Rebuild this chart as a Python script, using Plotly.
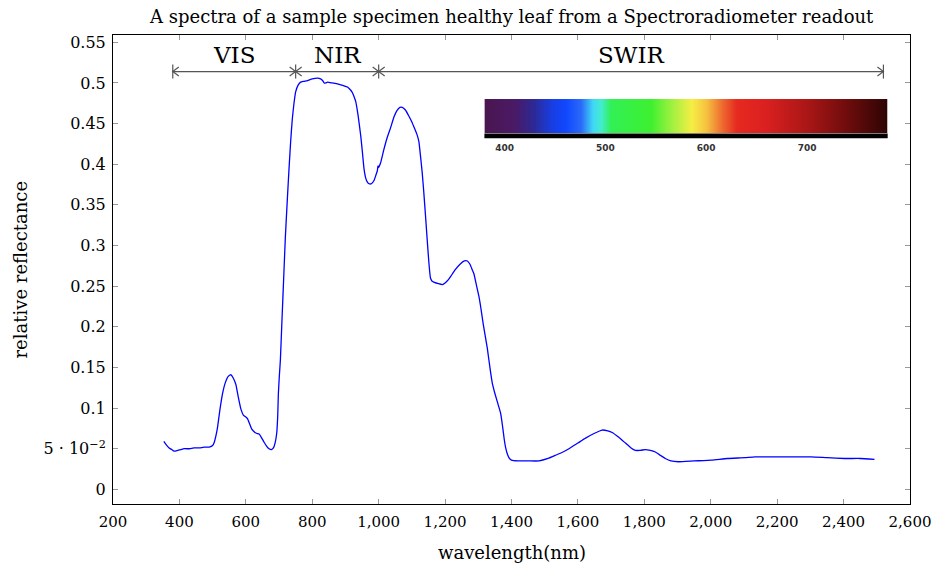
import plotly.graph_objects as go

# ---- data ----
wavelength = [353, 360, 369, 377, 384, 395, 405, 414, 430, 444, 460, 475, 490, 500, 505, 510, 515, 522,
              530, 538, 547, 555, 562, 570, 577, 585, 593, 600, 605, 612, 618, 625, 632, 640, 648, 655,
              663, 670, 677, 683, 688, 693, 696, 698, 701, 704, 709, 714, 719, 725, 730, 735, 740, 745,
              750, 757, 765, 775, 786, 800, 816, 825, 831, 836, 841, 846, 860, 876, 892, 906, 916, 921,
              926, 931, 938, 946, 951, 956, 961, 966, 971, 978, 986, 992, 996, 998, 1000, 1006, 1015,
              1025, 1036, 1046, 1055, 1064, 1071, 1080, 1090, 1100, 1106, 1115, 1121, 1126, 1131, 1136,
              1141, 1146, 1151, 1156, 1161, 1166, 1180, 1192, 1200, 1210, 1217, 1230, 1245, 1258, 1267,
              1275, 1282, 1287, 1295, 1302, 1307, 1315, 1322, 1327, 1335, 1342, 1350, 1360, 1367, 1373,
              1378, 1382, 1388, 1394, 1400, 1420, 1450, 1483, 1510, 1533, 1555, 1573, 1600, 1623, 1650,
              1673, 1690, 1703, 1723, 1743, 1760, 1773, 1788, 1803, 1818, 1833, 1848, 1863, 1880, 1903,
              1950, 2003, 2050, 2103, 2133, 2200, 2303, 2350, 2403, 2450, 2493]
reflectance = [0.059, 0.055, 0.051, 0.049, 0.047, 0.048, 0.049, 0.050, 0.050, 0.051, 0.051, 0.052, 0.052,
               0.054, 0.058, 0.066, 0.077, 0.098, 0.118, 0.131, 0.139, 0.141, 0.137, 0.129, 0.114, 0.099,
               0.091, 0.089, 0.087, 0.080, 0.074, 0.071, 0.069, 0.068, 0.063, 0.058, 0.053, 0.050, 0.049,
               0.051, 0.057, 0.069, 0.090, 0.118, 0.140, 0.159, 0.210, 0.260, 0.310, 0.357, 0.394, 0.428,
               0.456, 0.475, 0.489, 0.497, 0.501, 0.502, 0.503, 0.505, 0.506, 0.505, 0.503, 0.500, 0.500,
               0.501, 0.500, 0.499, 0.497, 0.495, 0.491, 0.488, 0.483, 0.477, 0.460, 0.435, 0.415, 0.394,
               0.383, 0.378, 0.376, 0.376, 0.380, 0.387, 0.392, 0.398, 0.396, 0.402, 0.417, 0.432, 0.445,
               0.458, 0.466, 0.470, 0.470, 0.467, 0.460, 0.452, 0.446, 0.437, 0.428, 0.410, 0.390, 0.365,
               0.337, 0.308, 0.280, 0.260, 0.256, 0.255, 0.253, 0.252, 0.254, 0.258, 0.262, 0.270, 0.277,
               0.281, 0.281, 0.277, 0.270, 0.265, 0.250, 0.237, 0.225, 0.203, 0.186, 0.174, 0.150, 0.131,
               0.118, 0.104, 0.094, 0.078, 0.062, 0.052, 0.043, 0.038, 0.036, 0.035, 0.035, 0.035, 0.038,
               0.042, 0.046, 0.050, 0.057, 0.063, 0.069, 0.073, 0.072, 0.070, 0.064, 0.057, 0.051, 0.048,
               0.048, 0.049, 0.048, 0.046, 0.042, 0.038, 0.035, 0.034, 0.035, 0.036, 0.038, 0.039, 0.040,
               0.040, 0.040, 0.039, 0.038, 0.038, 0.037]

region_names = ["VIS", "NIR", "SWIR"]
region_bounds = [380, 750, 1000, 2520]
region_level = 0.514

x_ticks = [200, 400, 600, 800, 1000, 1200, 1400, 1600, 1800, 2000, 2200, 2400, 2600]
x_ticktext = ["200", "400", "600", "800", "1,000", "1,200", "1,400", "1,600", "1,800", "2,000",
              "2,200", "2,400", "2,600"]
y_ticks = [0, 0.05, 0.1, 0.15, 0.2, 0.25, 0.3, 0.35, 0.4, 0.45, 0.5, 0.55]
y_ticktext = ["0", "5 · 10<sup>−2</sup>", "0.1", "0.15", "0.2", "0.25", "0.3", "0.35", "0.4",
              "0.45", "0.5", "0.55"]

spectrum_nm = list(range(380, 781, 2))
spectrum_ticks = [400, 500, 600, 700]
spectrum_colors = [
    [0.000, "#4a1650"], [0.075, "#4a1a66"], [0.125, "#2c2a98"], [0.163, "#1a3de0"],
    [0.200, "#1048ff"], [0.238, "#2a6af8"], [0.268, "#40d8f6"], [0.288, "#44ecd0"],
    [0.313, "#32f056"], [0.413, "#3ef030"], [0.463, "#a0f040"], [0.513, "#f6ee44"],
    [0.550, "#f6c040"], [0.588, "#ee6c30"], [0.625, "#e62a20"], [0.700, "#da2020"],
    [0.800, "#aa1616"], [0.900, "#6e0c0c"], [1.000, "#2e0404"]]

X_RANGE = [200, 2600]
Y_RANGE = [-0.018, 0.559]

SERIF = "DejaVu Serif"
fig = go.Figure()

fig.add_trace(go.Scatter(x=wavelength, y=reflectance, mode="lines",
                         line=dict(color="#0000ff", width=1.3, shape="spline", smoothing=0.4),
                         showlegend=False, hoverinfo="skip"))

# region arrows |<--->|
plot_w, plot_h = 797, 469
ux = (X_RANGE[1] - X_RANGE[0]) / plot_w
uy = (Y_RANGE[1] - Y_RANGE[0]) / plot_h
ax, ay = [], []
for i in range(len(region_names)):
    a, b = region_bounds[i], region_bounds[i + 1]
    ax += [a, b, None]
    ay += [region_level, region_level, None]
    ax += [a + 6 * ux, a, a + 6 * ux, None]
    ay += [region_level + 4.5 * uy, region_level, region_level - 4.5 * uy, None]
    ax += [b - 6 * ux, b, b - 6 * ux, None]
    ay += [region_level + 4.5 * uy, region_level, region_level - 4.5 * uy, None]
for v in region_bounds:
    ax += [v, v, None]
    ay += [region_level + 7 * uy, region_level - 7 * uy, None]
fig.add_trace(go.Scatter(x=ax, y=ay, mode="lines", line=dict(color="#555555", width=1.2),
                         showlegend=False, hoverinfo="skip"))
for i, name in enumerate(region_names):
    fig.add_annotation(x=(region_bounds[i] + region_bounds[i + 1]) / 2, y=region_level + 17 * uy,
                       text=name, showarrow=False, font=dict(family=SERIF, size=23, color="black"),
                       xref="x", yref="y", yanchor="middle", xanchor="center")

# spectrum strip
fig.add_trace(go.Heatmap(x=spectrum_nm, y=[0], z=[spectrum_nm], colorscale=spectrum_colors,
                         showscale=False, xaxis="x2", yaxis="y2", hoverinfo="skip", zsmooth="best"))
fig.add_shape(type="rect", xref="x2 domain", yref="paper", x0=0, x1=1, y0=0.780, y1=0.790,
              fillcolor="black", line=dict(width=0), layer="above")

axis_common = dict(showline=True, linecolor="black", linewidth=1, mirror="allticks",
                   ticks="inside", ticklen=5, tickcolor="#999999", tickwidth=1,
                   showgrid=False, zeroline=False, automargin=False, ticklabeloverflow="allow")
fig.update_layout(
    width=931, height=564,
    margin=dict(l=113, r=21, t=35, b=60),
    plot_bgcolor="white", paper_bgcolor="white",
    xaxis=dict(range=X_RANGE, tickvals=x_ticks, ticktext=x_ticktext, ticklabelstandoff=4,
               tickfont=dict(family=SERIF, size=15, color="black"), **axis_common),
    yaxis=dict(range=Y_RANGE, tickvals=y_ticks, ticktext=y_ticktext, ticklabelstandoff=3,
               tickfont=dict(family=SERIF, size=16, color="black"), **axis_common),
    xaxis2=dict(domain=[0.466, 0.972], anchor="y2", range=[380, 780], tickvals=spectrum_ticks,
                ticks="outside", ticklen=4, tickcolor="#aaaaaa", showline=False, showgrid=False,
                zeroline=False, ticklabelstandoff=2, automargin=False,
                tickfont=dict(family="DejaVu Sans", size=9, color="#333333", weight="bold")),
    yaxis2=dict(domain=[0.790, 0.8635], anchor="x2", range=[-0.5, 0.5], showticklabels=False,
                ticks="", showline=False, showgrid=False, zeroline=False, automargin=False),
)
fig.add_annotation(text="A spectra of a sample specimen healthy leaf from a Spectroradiometer readout",
                   xref="paper", yref="paper", x=0.5, y=1 + 18 / plot_h, showarrow=False,
                   xanchor="center", yanchor="middle",
                   font=dict(family=SERIF, size=18, color="black"))
fig.add_annotation(text="wavelength(nm)", xref="paper", yref="paper", x=0.5, y=-48 / plot_h,
                   showarrow=False, xanchor="center", yanchor="middle",
                   font=dict(family=SERIF, size=18, color="black"))
fig.add_annotation(text="relative reflectance", xref="paper", yref="paper", x=-93 / plot_w, y=0.5,
                   textangle=-90, showarrow=False, xanchor="center", yanchor="middle",
                   font=dict(family=SERIF, size=18, color="black"))

fig.write_html("out.html")
